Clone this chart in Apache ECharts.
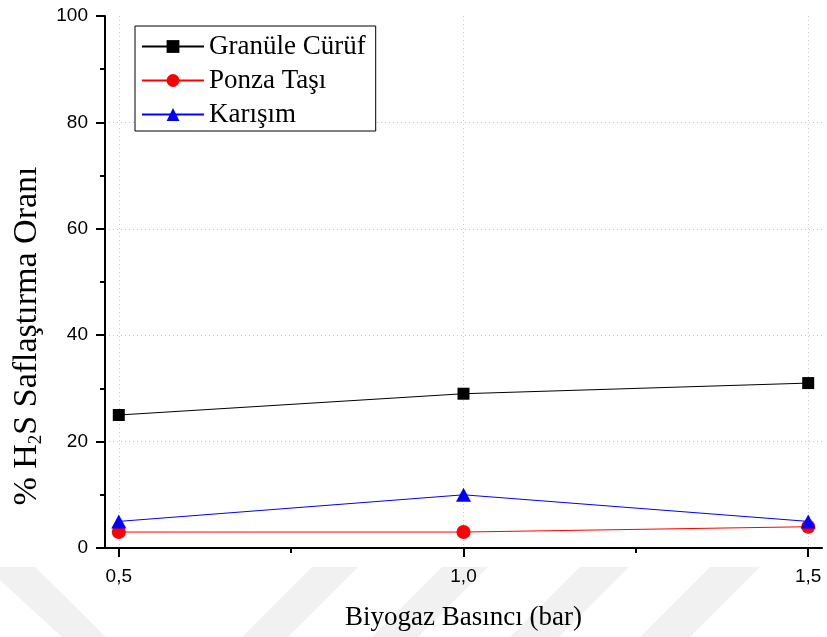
<!DOCTYPE html>
<html>
<head>
<meta charset="utf-8">
<script src="https://cdn.jsdelivr.net/npm/echarts@6/dist/echarts.min.js"></script>
<style>
  html, body { margin: 0; padding: 0; background: #fff; }
  #chart { width: 827px; height: 637px; }
</style>
</head>
<body>
<div id="chart"></div>
<script>
// Biogas pressure (bar) on the x axis
const pressures = [0.5, 1.0, 1.5];
// H2S removal percentage for each sorbent
const granuleCuruf = [25, 29, 31];
const ponzaTasi = [3, 3, 4];
const karisim = [5, 10, 5];
// Axis ticks
const xMajorTicks = [0.5, 1.0, 1.5];
const xMinorTicks = [0.75, 1.25];
const yTicks = [0, 20, 40, 60, 80, 100];

const seriesNames = ['Granüle Cürüf', 'Ponza Taşı', 'Karışım'];

// Faint diagonal background bands along the bottom edge
const bandShapes = [
  [[0, 567], [35, 567], [106, 637], [62, 637], [0, 580]],
  [[312, 567], [358, 567], [288, 637], [242, 637]],
  [[442, 567], [488, 567], [418, 637], [372, 637]],
  [[580, 567], [629, 567], [559, 637], [510, 637]],
  [[710, 567], [760, 567], [690, 637], [640, 637]]
];

const pairs = (ys) => pressures.map((x, i) => [x, ys[i]]);
const commaFmt = (v) => v.toFixed(1).replace('.', ',');

const serif = 'Liberation Serif';
const sans = 'Liberation Sans';
const gridGray = '#c8c8c8';

const chart = echarts.init(document.getElementById('chart'), null, { renderer: 'canvas' });

const option = {
  backgroundColor: '#fff',
  animation: false,
  graphic: bandShapes.map((pts) => ({
    type: 'polygon',
    z: -10,
    silent: true,
    shape: { points: pts },
    style: { fill: '#f1f1f1' }
  })),
  grid: { left: 105, right: 5, top: 16, bottom: 89, containLabel: false },
  legend: {
    orient: 'vertical',
    left: 135,
    top: 26,
    padding: [7, 10, 3, 6],
    itemWidth: 62,
    itemHeight: 16,
    itemGap: 7,
    backgroundColor: '#fff',
    borderColor: '#000',
    borderWidth: 1,
    borderRadius: 0,
    textStyle: { fontFamily: serif, fontSize: 27, color: '#000' },
    data: seriesNames
  },
  xAxis: [
    {
      type: 'value',
      min: 0.48,
      max: 1.52,
      axisLine: { show: true, onZero: false, lineStyle: { color: '#000', width: 2 } },
      axisTick: { show: true, length: 9, customValues: xMajorTicks, lineStyle: { color: '#000', width: 2 } },
      axisLabel: {
        customValues: xMajorTicks,
        formatter: commaFmt,
        fontFamily: sans, fontSize: 19, color: '#000', margin: 19
      },
      splitLine: { show: true, lineStyle: { color: gridGray, width: 1, type: [1, 3] } },
      name: 'Biyogaz Basıncı (bar)',
      nameLocation: 'middle',
      nameGap: 56,
      nameTextStyle: { fontFamily: serif, fontSize: 27, color: '#000' }
    },
    {
      type: 'value',
      position: 'bottom',
      min: 0.48,
      max: 1.52,
      axisLine: { show: false },
      axisTick: { show: true, length: 5, customValues: xMinorTicks, lineStyle: { color: '#000', width: 2 } },
      axisLabel: { show: false, customValues: xMinorTicks },
      splitLine: { show: false }
    }
  ],
  yAxis: {
    type: 'value',
    min: yTicks[0],
    max: yTicks[yTicks.length - 1],
    interval: 20,
    axisLine: { show: true, lineStyle: { color: '#000', width: 2 } },
    axisTick: { show: true, length: 9, lineStyle: { color: '#000', width: 2 } },
    minorTick: { show: true, splitNumber: 2, length: 5, lineStyle: { color: '#000', width: 2 } },
    axisLabel: { fontFamily: sans, fontSize: 19, color: '#000', margin: 17 },
    splitLine: {
      show: true,
      lineStyle: {
        // no dotted line along the top edge
        color: yTicks.map((t, i) => (i === yTicks.length - 1 ? 'rgba(0,0,0,0)' : gridGray)),
        width: 1,
        type: [1, 3]
      }
    },
    name: '% H{sub|2}S Saflaştırma Oranı',
    nameLocation: 'middle',
    nameGap: 57,
    nameRotate: 90,
    nameTextStyle: {
      fontFamily: serif,
      fontSize: 34,
      color: '#000',
      padding: [0, 108, 0, 0],
      rich: {
        sub: { fontFamily: serif, fontSize: 19, color: '#000', padding: [17, 0, 0, 0] }
      }
    }
  },
  series: [
    {
      name: seriesNames[0],
      type: 'line',
      data: pairs(granuleCuruf),
      symbol: 'rect',
      symbolSize: 12,
      color: '#000000',
      lineStyle: { color: '#000000', width: 1 },
      itemStyle: { color: '#000000' }
    },
    {
      name: seriesNames[1],
      type: 'line',
      data: pairs(ponzaTasi),
      symbol: 'circle',
      symbolSize: 14,
      color: '#ff0000',
      lineStyle: { color: '#ff0000', width: 1 },
      itemStyle: { color: '#ff0000' }
    },
    {
      name: seriesNames[2],
      type: 'line',
      data: pairs(karisim),
      symbol: 'triangle',
      symbolSize: [15, 14],
      color: '#0000ff',
      lineStyle: { color: '#0000ff', width: 1 },
      itemStyle: { color: '#0000ff' }
    }
  ]
};

chart.setOption(option);
</script>
</body>
</html>
